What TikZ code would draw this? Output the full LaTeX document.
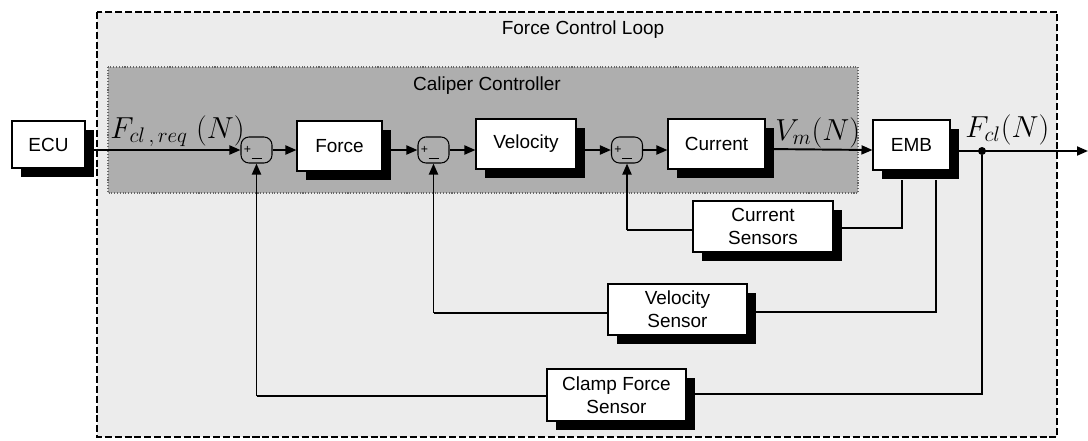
\documentclass[tikz,border=0pt]{standalone}
\usepackage{fontspec}
\setmainfont{Liberation Sans}
\usetikzlibrary{shadows,arrows.meta}
\pgfdeclarelayer{bg}
\pgfdeclarelayer{wires}
\pgfsetlayers{bg,wires,main}
\begin{document}
\begin{tikzpicture}[x=0.02cm,y=-0.02cm,
  blk/.style={draw=black, line width=0.6pt, fill=white, align=center, inner sep=0pt,
    font=\fontsize{10.8}{13}\selectfont,
    general shadow={fill=black, shadow xshift=0.18cm, shadow yshift=-0.18cm}},
  sumb/.style={rectangle, rounded corners=0.16cm,
    draw=black, line width=0.6pt, minimum width=0.62cm, minimum height=0.52cm, inner sep=0pt},
  sgn/.style={font=\fontsize{7}{7}\selectfont, inner sep=0pt},
  sig/.style={line width=1.1pt, -{Triangle[length=2.2mm,width=1.8mm]}},
  fb/.style={line width=0.6pt},
  fbv/.style={line width=1.1pt, -{Triangle[length=2.2mm,width=1.8mm]}},
  mlab/.style={font=\fontsize{16.5}{20}\selectfont, inner sep=0pt, anchor=base west},
  ttl/.style={font=\fontsize{10.8}{13}\selectfont, inner sep=0pt}
]
\useasboundingbox (0,0) rectangle (1088,440);
\begin{pgfonlayer}{bg}
  \fill[white] (0,0) rectangle (1088,440);
  \draw[line width=1.1pt, dash pattern=on 4pt off 1.6pt, fill={rgb,255:red,236;green,236;blue,236}]
    (97,12) rectangle (1057,437);
  \draw[line width=0.6pt, densely dotted, draw=black!60, fill={rgb,255:red,174;green,174;blue,174}]
    (108,67) rectangle (858,193);
\end{pgfonlayer}

\node[ttl] (tfcl) at (583,30) {Force Control Loop};
\node[ttl] (tcc) at (487,86) {Caliper Controller};

\node[blk, minimum width=1.46cm, minimum height=0.94cm] (ecu) at (48.5,144.5) {ECU};
\node[sumb] (s1) at (256.5,150) {};
\node[blk, minimum width=1.70cm, minimum height=1.00cm] (force) at (339.5,146) {Force};
\node[sumb] (s2) at (433.5,150) {};
\node[blk, minimum width=2.00cm, minimum height=1.00cm] (vel) at (526,144) {Velocity};
\node[sumb] (s3) at (627,150) {};
\node[blk, minimum width=1.94cm, minimum height=1.00cm] (cur) at (716.5,144) {Current};
\node[blk, minimum width=1.54cm, minimum height=1.00cm] (emb) at (911.5,145) {EMB};
\node[blk, minimum width=2.80cm, minimum height=1.02cm] (cs) at (763,226.5) {Current\\Sensors};
\node[blk, minimum width=2.78cm, minimum height=1.02cm] (vs) at (677.5,309.5) {Velocity\\Sensor};
\node[blk, minimum width=2.78cm, minimum height=1.04cm] (cfs) at (616.5,395) {Clamp Force\\Sensor};

\foreach \s in {s1,s2,s3}{
  \node[sgn] at ([xshift=-0.18cm,yshift=0.0cm]\s.center) {+};
  \node[sgn] at ([yshift=-0.17cm]\s.center) {\rule{0.2cm}{0.5pt}};
}

\node[mlab] (lreq) at (110,138) {$F_{cl\,,\,req}\ (N)$};
\node[mlab] (lvm) at (775,140) {$V_m(N)$};
\node[mlab] (lfcl) at (965,137) {$F_{cl}(N)$};

\coordinate (t1) at (902,180);
\coordinate (t2) at (936,180);
\node[circle, fill=black, inner sep=0pt, minimum size=0.16cm] (dot) at (982,151) {};
\coordinate (out) at (1088,151);
\coordinate (csw) at ([yshift=-0.07cm]cs.west);
\coordinate (vsw) at ([yshift=-0.07cm]vs.west);
\coordinate (cfw) at ([yshift=-0.02cm]cfs.west);

\begin{pgfonlayer}{wires}
  \draw[sig] (ecu.east |- s1.west) -- (s1.west);
  \draw[sig] (s1.east) -- (force.west |- s1.east);
  \draw[sig] (force.east |- s2.west) -- (s2.west);
  \draw[sig] (s2.east) -- (vel.west |- s2.east);
  \draw[sig] (vel.east |- s3.west) -- (s3.west);
  \draw[sig] (s3.east) -- (cur.west |- s3.east);
  \draw[sig] ([yshift=-0.1cm]cur.east) -- ([yshift=-0.1cm]emb.west);
  \draw[sig] ([yshift=-0.12cm]emb.east) -- (out);
  % current feedback
  \draw[fb] (t1) |- ([yshift=-0.03cm]cs.east);
  \draw[fb] (csw) -- (s3.south |- csw);
  \draw[fbv] (s3.south |- csw) -- (s3.south);
  % velocity feedback
  \draw[fb] (t2) |- ([yshift=-0.05cm]vs.east);
  \draw[fb] (vsw) -- (s2.south |- vsw);
  \draw[fbv] (s2.south |- vsw) -- (s2.south);
  % clamp force feedback
  \draw[fb] (dot) |- ([yshift=0.02cm]cfs.east);
  \draw[fb] (cfw) -- (s1.south |- cfw);
  \draw[fbv] (s1.south |- cfw) -- (s1.south);
\end{pgfonlayer}
\end{tikzpicture}
\end{document}
